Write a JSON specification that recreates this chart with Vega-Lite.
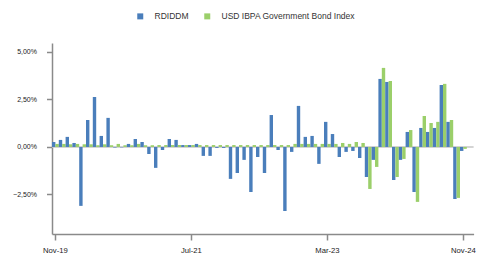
{
  "$schema": "https://vega.github.io/schema/vega-lite/v6.json",
  "autosize": {"type": "none"},
  "width": 421.6,
  "height": 191,
  "padding": {"left": 52, "top": 43, "right": 10.4, "bottom": 20},
  "background": "white",
  "config": {"view": {"stroke": null}, "font": "Liberation Sans"},
  "datasets": {
    "bars": [
      {"month":"Nov-19","series":"RDIDDM","value":0.26},{"month":"Nov-19","series":"USD IBPA Government Bond Index","value":0.16},
      {"month":"Dec-19","series":"RDIDDM","value":0.37},{"month":"Dec-19","series":"USD IBPA Government Bond Index","value":0.16},
      {"month":"Jan-20","series":"RDIDDM","value":0.53},{"month":"Jan-20","series":"USD IBPA Government Bond Index","value":0.14},
      {"month":"Feb-20","series":"RDIDDM","value":0.21},{"month":"Feb-20","series":"USD IBPA Government Bond Index","value":0.16},
      {"month":"Mar-20","series":"RDIDDM","value":-3.1},{"month":"Mar-20","series":"USD IBPA Government Bond Index","value":0.14},
      {"month":"Apr-20","series":"RDIDDM","value":1.42},{"month":"Apr-20","series":"USD IBPA Government Bond Index","value":0.14},
      {"month":"May-20","series":"RDIDDM","value":2.63},{"month":"May-20","series":"USD IBPA Government Bond Index","value":0.09},
      {"month":"Jun-20","series":"RDIDDM","value":0.58},{"month":"Jun-20","series":"USD IBPA Government Bond Index","value":0.14},
      {"month":"Jul-20","series":"RDIDDM","value":1.53},{"month":"Jul-20","series":"USD IBPA Government Bond Index","value":0.09},
      {"month":"Aug-20","series":"RDIDDM","value":-0.03},{"month":"Aug-20","series":"USD IBPA Government Bond Index","value":0.16},
      {"month":"Sep-20","series":"RDIDDM","value":-0.02},{"month":"Sep-20","series":"USD IBPA Government Bond Index","value":0.09},
      {"month":"Oct-20","series":"RDIDDM","value":0.16},{"month":"Oct-20","series":"USD IBPA Government Bond Index","value":0.09},
      {"month":"Nov-20","series":"RDIDDM","value":0.42},{"month":"Nov-20","series":"USD IBPA Government Bond Index","value":0.16},
      {"month":"Dec-20","series":"RDIDDM","value":0.26},{"month":"Dec-20","series":"USD IBPA Government Bond Index","value":0.09},
      {"month":"Jan-21","series":"RDIDDM","value":-0.37},{"month":"Jan-21","series":"USD IBPA Government Bond Index","value":0.09},
      {"month":"Feb-21","series":"RDIDDM","value":-1.1},{"month":"Feb-21","series":"USD IBPA Government Bond Index","value":0.1},
      {"month":"Mar-21","series":"RDIDDM","value":-0.16},{"month":"Mar-21","series":"USD IBPA Government Bond Index","value":0.1},
      {"month":"Apr-21","series":"RDIDDM","value":0.42},{"month":"Apr-21","series":"USD IBPA Government Bond Index","value":0.1},
      {"month":"May-21","series":"RDIDDM","value":0.37},{"month":"May-21","series":"USD IBPA Government Bond Index","value":0.1},
      {"month":"Jun-21","series":"RDIDDM","value":0.1},{"month":"Jun-21","series":"USD IBPA Government Bond Index","value":0.1},
      {"month":"Jul-21","series":"RDIDDM","value":0.1},{"month":"Jul-21","series":"USD IBPA Government Bond Index","value":0.1},
      {"month":"Aug-21","series":"RDIDDM","value":0.16},{"month":"Aug-21","series":"USD IBPA Government Bond Index","value":0.1},
      {"month":"Sep-21","series":"RDIDDM","value":-0.47},{"month":"Sep-21","series":"USD IBPA Government Bond Index","value":0.1},
      {"month":"Oct-21","series":"RDIDDM","value":-0.47},{"month":"Oct-21","series":"USD IBPA Government Bond Index","value":0.1},
      {"month":"Nov-21","series":"RDIDDM","value":-0.05},{"month":"Nov-21","series":"USD IBPA Government Bond Index","value":0.1},
      {"month":"Dec-21","series":"RDIDDM","value":-0.05},{"month":"Dec-21","series":"USD IBPA Government Bond Index","value":0.1},
      {"month":"Jan-22","series":"RDIDDM","value":-1.68},{"month":"Jan-22","series":"USD IBPA Government Bond Index","value":0.1},
      {"month":"Feb-22","series":"RDIDDM","value":-1.37},{"month":"Feb-22","series":"USD IBPA Government Bond Index","value":0.1},
      {"month":"Mar-22","series":"RDIDDM","value":-0.68},{"month":"Mar-22","series":"USD IBPA Government Bond Index","value":0.1},
      {"month":"Apr-22","series":"RDIDDM","value":-2.37},{"month":"Apr-22","series":"USD IBPA Government Bond Index","value":0.1},
      {"month":"May-22","series":"RDIDDM","value":-0.53},{"month":"May-22","series":"USD IBPA Government Bond Index","value":0.1},
      {"month":"Jun-22","series":"RDIDDM","value":-1.37},{"month":"Jun-22","series":"USD IBPA Government Bond Index","value":0.1},
      {"month":"Jul-22","series":"RDIDDM","value":1.68},{"month":"Jul-22","series":"USD IBPA Government Bond Index","value":0.1},
      {"month":"Aug-22","series":"RDIDDM","value":-0.16},{"month":"Aug-22","series":"USD IBPA Government Bond Index","value":0.1},
      {"month":"Sep-22","series":"RDIDDM","value":-3.37},{"month":"Sep-22","series":"USD IBPA Government Bond Index","value":0.1},
      {"month":"Oct-22","series":"RDIDDM","value":-0.26},{"month":"Oct-22","series":"USD IBPA Government Bond Index","value":0.16},
      {"month":"Nov-22","series":"RDIDDM","value":2.16},{"month":"Nov-22","series":"USD IBPA Government Bond Index","value":0.16},
      {"month":"Dec-22","series":"RDIDDM","value":0.53},{"month":"Dec-22","series":"USD IBPA Government Bond Index","value":0.16},
      {"month":"Jan-23","series":"RDIDDM","value":0.58},{"month":"Jan-23","series":"USD IBPA Government Bond Index","value":0.16},
      {"month":"Feb-23","series":"RDIDDM","value":-0.89},{"month":"Feb-23","series":"USD IBPA Government Bond Index","value":0.16},
      {"month":"Mar-23","series":"RDIDDM","value":1.32},{"month":"Mar-23","series":"USD IBPA Government Bond Index","value":0.16},
      {"month":"Apr-23","series":"RDIDDM","value":0.68},{"month":"Apr-23","series":"USD IBPA Government Bond Index","value":0.16},
      {"month":"May-23","series":"RDIDDM","value":-0.53},{"month":"May-23","series":"USD IBPA Government Bond Index","value":0.21},
      {"month":"Jun-23","series":"RDIDDM","value":-0.26},{"month":"Jun-23","series":"USD IBPA Government Bond Index","value":0.16},
      {"month":"Jul-23","series":"RDIDDM","value":-0.21},{"month":"Jul-23","series":"USD IBPA Government Bond Index","value":0.26},
      {"month":"Aug-23","series":"RDIDDM","value":-0.58},{"month":"Aug-23","series":"USD IBPA Government Bond Index","value":0.21},
      {"month":"Sep-23","series":"RDIDDM","value":-1.58},{"month":"Sep-23","series":"USD IBPA Government Bond Index","value":-2.21},
      {"month":"Oct-23","series":"RDIDDM","value":-0.68},{"month":"Oct-23","series":"USD IBPA Government Bond Index","value":-1.05},
      {"month":"Nov-23","series":"RDIDDM","value":3.58},{"month":"Nov-23","series":"USD IBPA Government Bond Index","value":4.16},
      {"month":"Dec-23","series":"RDIDDM","value":3.42},{"month":"Dec-23","series":"USD IBPA Government Bond Index","value":3.47},
      {"month":"Jan-24","series":"RDIDDM","value":-1.74},{"month":"Jan-24","series":"USD IBPA Government Bond Index","value":-1.58},
      {"month":"Feb-24","series":"RDIDDM","value":-0.68},{"month":"Feb-24","series":"USD IBPA Government Bond Index","value":-0.63},
      {"month":"Mar-24","series":"RDIDDM","value":0.79},{"month":"Mar-24","series":"USD IBPA Government Bond Index","value":0.89},
      {"month":"Apr-24","series":"RDIDDM","value":-2.37},{"month":"Apr-24","series":"USD IBPA Government Bond Index","value":-2.89},
      {"month":"May-24","series":"RDIDDM","value":1.0},{"month":"May-24","series":"USD IBPA Government Bond Index","value":1.63},
      {"month":"Jun-24","series":"RDIDDM","value":0.79},{"month":"Jun-24","series":"USD IBPA Government Bond Index","value":1.26},
      {"month":"Jul-24","series":"RDIDDM","value":1.0},{"month":"Jul-24","series":"USD IBPA Government Bond Index","value":1.32},
      {"month":"Aug-24","series":"RDIDDM","value":3.26},{"month":"Aug-24","series":"USD IBPA Government Bond Index","value":3.32},
      {"month":"Sep-24","series":"RDIDDM","value":1.32},{"month":"Sep-24","series":"USD IBPA Government Bond Index","value":1.42},
      {"month":"Oct-24","series":"RDIDDM","value":-2.74},{"month":"Oct-24","series":"USD IBPA Government Bond Index","value":-2.68},
      {"month":"Nov-24","series":"RDIDDM","value":-0.21},{"month":"Nov-24","series":"USD IBPA Government Bond Index","value":-0.1}
    ]
  },
  "layer": [
    {
      "data": {"values": [{"z": 0}]},
      "mark": {"type": "rule", "color": "#c6c6c6", "strokeWidth": 1.5},
      "encoding": {"y": {"field": "z", "type": "quantitative"}}
    },
    {
      "data": {"name": "bars"},
      "mark": {"type": "bar"},
      "encoding": {
        "x": {
          "field": "month", "type": "nominal", "sort": null,
          "scale": {"domain": ["Nov-19","Dec-19","Jan-20","Feb-20","Mar-20","Apr-20","May-20","Jun-20","Jul-20","Aug-20","Sep-20","Oct-20","Nov-20","Dec-20","Jan-21","Feb-21","Mar-21","Apr-21","May-21","Jun-21","Jul-21","Aug-21","Sep-21","Oct-21","Nov-21","Dec-21","Jan-22","Feb-22","Mar-22","Apr-22","May-22","Jun-22","Jul-22","Aug-22","Sep-22","Oct-22","Nov-22","Dec-22","Jan-23","Feb-23","Mar-23","Apr-23","May-23","Jun-23","Jul-23","Aug-23","Sep-23","Oct-23","Nov-23","Dec-23","Jan-24","Feb-24","Mar-24","Apr-24","May-24","Jun-24","Jul-24","Aug-24","Sep-24","Oct-24","Nov-24","Dec-24"], "paddingInner": 0, "paddingOuter": 0},
          "axis": {
            "title": null, "values": ["Nov-19","Jul-21","Mar-23","Nov-24"], "labelAngle": 0,
            "labelFontSize": 7.7, "labelColor": "#222", "labelPadding": 6,
            "tickSize": 6, "tickColor": "#8a8a8a", "tickWidth": 1.5,
            "domainColor": "#8a8a8a", "domainWidth": 1.5, "grid": false
          }
        },
        "xOffset": {"field": "series", "type": "nominal", "sort": ["RDIDDM","USD IBPA Government Bond Index"]},
        "y": {
          "field": "value", "type": "quantitative",
          "scale": {"domain": [-4.58, 5.47], "nice": false, "zero": false},
          "axis": {
            "title": null, "values": [-2.5, 0, 2.5, 5],
            "labelExpr": "replace(format(datum.value, '.2f'), '.', ',') + '%'",
            "labelFontSize": 7, "labelColor": "#222", "labelPadding": 10,
            "tickSize": 5.5, "tickColor": "#8a8a8a", "tickWidth": 1.5,
            "domainColor": "#8a8a8a", "domainWidth": 1.5, "grid": false
          }
        },
        "color": {
          "field": "series", "type": "nominal",
          "scale": {"domain": ["RDIDDM","USD IBPA Government Bond Index"], "range": ["#4a7ebb","#9bcf6a"]},
          "legend": {
            "title": null, "orient": "none", "legendX": 84, "legendY": -31,
            "direction": "horizontal", "symbolType": "square", "symbolSize": 36,
            "symbolStrokeWidth": 0, "labelFontSize": 8.5, "labelColor": "#333",
            "labelOffset": 10, "columnPadding": 14, "padding": 0
          }
        }
      }
    }
  ]
}
